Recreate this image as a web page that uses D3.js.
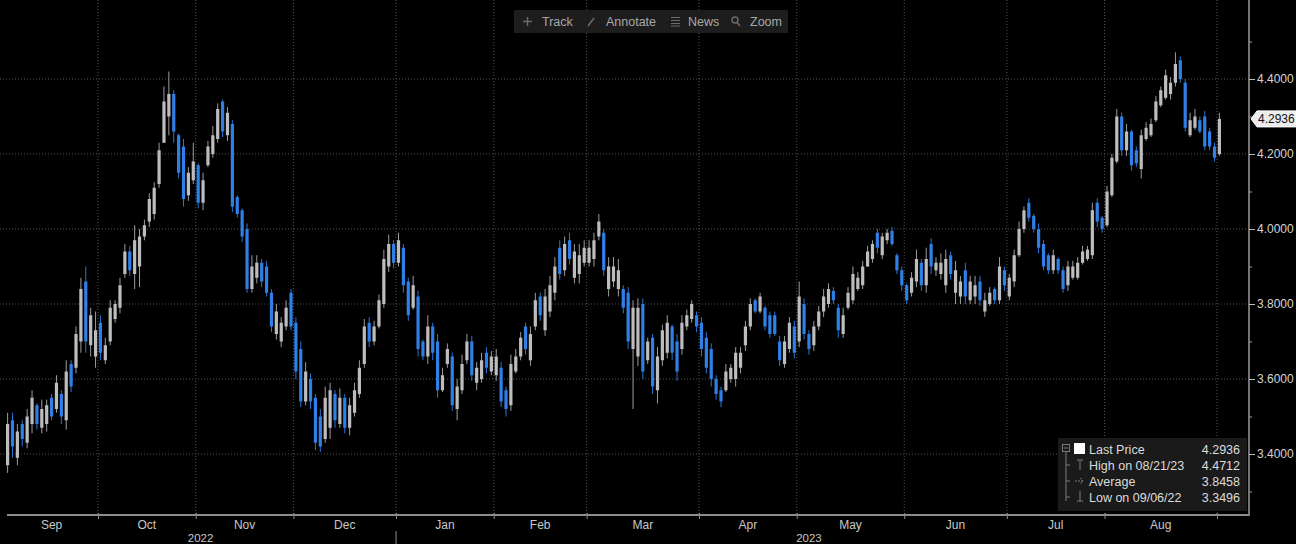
<!DOCTYPE html>
<html><head><meta charset="utf-8">
<script src="https://cdn.jsdelivr.net/npm/d3@7/dist/d3.min.js"></script>
<style>
html,body{margin:0;padding:0;background:#000;overflow:hidden;}
svg{display:block;font-family:"Liberation Sans",Arial,sans-serif;}
</style></head><body>
<svg id="chart" width="1296" height="544"></svg>
<script>
// ---------------- DATA ----------------
const firstDay = "2022-09-06";
const lastDay = "2023-09-01";
const holidays = ["2022-10-10","2022-11-11","2022-11-24","2022-12-26","2023-01-02",
  "2023-01-16","2023-02-20","2023-05-29","2023-06-19","2023-07-04"];

const opens = [
  3.37,3.49,3.39,3.48,3.43,3.48,3.53,3.47,3.48,3.55,3.52,3.56,3.49,3.64,3.63,3.70,3.86,3.69,3.66,
  3.75,3.65,3.70,3.76,3.79,3.88,3.94,3.88,3.90,3.98,4.02,4.04,4.12,4.23,4.30,4.36,4.25,4.22,4.09,4.13,
  4.17,4.07,4.17,4.20,4.24,4.34,4.25,4.28,4.085,4.05,4.00,3.84,3.87,3.91,3.90,3.83,3.72,3.70,3.74,3.83,
  3.75,3.68,3.54,3.60,3.55,3.50,3.44,3.47,3.56,3.48,3.55,3.47,3.51,3.56,3.64,3.75,3.70,3.74,3.80,3.90,3.96,
  3.91,3.95,3.86,3.79,3.82,3.70,3.66,3.74,3.70,3.57,3.64,3.66,3.52,3.57,3.65,3.70,3.59,3.60,3.67,3.62,
  3.61,3.63,3.57,3.53,3.62,3.66,3.74,3.65,3.74,3.82,3.73,3.78,3.83,3.95,3.89,3.97,3.87,3.88,3.91,
  3.91,3.92,3.98,3.99,3.84,3.86,3.84,3.84,3.83,3.68,3.66,3.80,3.65,3.71,3.57,3.65,3.67,3.74,3.70,3.68,3.74,3.76,3.77,
  3.75,3.71,3.68,3.60,3.57,3.57,3.60,3.60,3.63,3.69,3.74,3.81,3.78,3.79,3.77,3.77,3.70,3.64,3.68,3.74,
  3.70,3.80,3.72,3.69,3.74,3.78,3.80,3.835,3.79,3.72,3.79,3.81,3.84,3.85,3.90,3.92,3.99,3.93,3.97,3.995,3.93,3.89,
  3.85,3.83,3.86,3.91,3.85,3.96,3.89,3.88,3.85,3.93,3.83,3.82,3.89,3.81,3.82,3.86,3.78,3.80,3.84,3.81,3.89,
  3.82,3.86,3.93,4.00,4.07,4.035,4.00,3.96,3.93,3.89,3.92,3.89,3.85,3.87,3.87,3.91,3.92,3.93,4.07,4.03,
  4.01,4.09,4.18,4.30,4.21,4.26,4.21,4.16,4.24,4.25,4.29,4.33,4.35,4.36,4.39,4.45,4.39,4.25,4.27,4.29,4.30,4.26,4.22,
  4.20
];
const highs = [
  3.51,3.51,3.48,3.49,3.52,3.57,3.535,3.545,3.545,3.56,3.61,3.57,3.65,3.65,3.74,3.87,3.90,3.79,3.78,
  3.77,3.71,3.81,3.81,3.87,3.96,3.955,4.01,4.00,4.025,4.095,4.125,4.23,4.38,4.42,4.37,4.255,4.24,4.165,4.23,
  4.175,4.15,4.235,4.275,4.335,4.345,4.325,4.29,4.09,4.055,4.015,3.93,3.93,3.92,3.915,3.84,3.80,3.765,3.81,3.84,
  3.765,3.70,3.645,3.615,3.56,3.52,3.58,3.59,3.57,3.575,3.56,3.55,3.59,3.65,3.76,3.765,3.755,3.825,3.945,3.985,3.97,
  3.99,3.96,3.87,3.875,3.835,3.705,3.77,3.75,3.72,3.63,3.695,3.67,3.60,3.665,3.72,3.715,3.645,3.67,3.685,3.675,
  3.68,3.645,3.58,3.665,3.68,3.725,3.75,3.74,3.83,3.83,3.84,3.875,3.925,3.97,3.98,3.99,3.96,3.96,3.97,
  3.97,3.99,4.04,4.00,3.925,3.925,3.92,3.85,3.845,3.81,3.815,3.815,3.71,3.72,3.685,3.745,3.77,3.745,3.72,3.77,3.785,3.81,3.78,
  3.765,3.725,3.695,3.61,3.58,3.64,3.64,3.685,3.685,3.755,3.815,3.815,3.83,3.795,3.78,3.78,3.715,3.715,3.765,3.755,
  3.86,3.815,3.73,3.755,3.795,3.84,3.855,3.845,3.80,3.79,3.845,3.90,3.885,3.915,3.955,3.97,4.00,3.99,4.00,4.005,3.935,3.90,
  3.855,3.885,3.945,3.92,3.95,3.975,3.925,3.935,3.945,3.94,3.915,3.875,3.91,3.875,3.875,3.875,3.83,3.845,3.845,3.925,3.90,
  3.88,3.945,4.02,4.06,4.082,4.04,4.015,3.97,3.935,3.945,3.925,3.90,3.915,3.915,3.925,3.955,3.955,4.07,4.082,4.035,
  4.115,4.20,4.32,4.31,4.28,4.265,4.22,4.265,4.285,4.295,4.355,4.38,4.425,4.405,4.4712,4.46,4.40,4.31,4.32,4.30,4.315,4.27,4.23,
  4.31
];
const lows = [
  3.3496,3.39,3.37,3.42,3.415,3.455,3.465,3.455,3.46,3.49,3.51,3.48,3.465,3.565,3.615,3.67,3.67,3.66,3.63,
  3.65,3.64,3.69,3.75,3.775,3.87,3.875,3.84,3.845,3.97,4.005,4.025,4.11,4.23,4.25,4.23,4.135,4.06,4.075,4.12,
  4.055,4.05,4.165,4.19,4.23,4.245,4.235,4.045,4.03,3.965,3.83,3.83,3.855,3.845,3.82,3.725,3.705,3.685,3.73,3.73,
  3.60,3.525,3.53,3.52,3.41,3.405,3.43,3.44,3.47,3.47,3.455,3.45,3.50,3.55,3.63,3.685,3.69,3.735,3.79,3.885,3.895,
  3.90,3.83,3.755,3.785,3.66,3.65,3.64,3.65,3.55,3.565,3.63,3.515,3.49,3.56,3.64,3.595,3.57,3.59,3.615,3.61,
  3.595,3.525,3.50,3.515,3.615,3.65,3.665,3.635,3.73,3.755,3.715,3.765,3.81,3.865,3.875,3.905,3.855,3.855,3.90,
  3.90,3.90,3.97,3.875,3.82,3.845,3.82,3.775,3.68,3.52,3.635,3.60,3.64,3.56,3.535,3.635,3.655,3.65,3.595,3.665,3.73,3.75,3.725,
  3.66,3.615,3.58,3.545,3.525,3.565,3.59,3.58,3.615,3.675,3.73,3.775,3.775,3.73,3.71,3.715,3.635,3.63,3.67,3.655,
  3.685,3.705,3.665,3.675,3.73,3.765,3.79,3.80,3.71,3.71,3.785,3.80,3.835,3.84,3.90,3.91,3.935,3.92,3.96,3.955,3.88,3.835,
  3.80,3.82,3.845,3.835,3.83,3.88,3.875,3.865,3.83,3.865,3.80,3.80,3.80,3.80,3.80,3.795,3.766,3.795,3.80,3.80,3.835,
  3.81,3.845,3.925,3.99,4.02,3.99,3.935,3.89,3.88,3.88,3.88,3.83,3.835,3.865,3.865,3.905,3.915,3.92,4.005,3.99,
  4.005,4.085,4.175,4.195,4.195,4.155,4.165,4.135,4.235,4.245,4.285,4.325,4.345,4.345,4.38,4.39,4.26,4.245,4.265,4.255,4.21,4.21,4.18,
  4.195
];
const closes = [
  3.48,3.42,3.46,3.44,3.50,3.55,3.48,3.52,3.53,3.50,3.59,3.50,3.62,3.58,3.72,3.84,3.70,3.77,3.73,
  3.67,3.69,3.79,3.80,3.85,3.94,3.89,3.97,3.98,4.01,4.08,4.11,4.21,4.34,4.36,4.26,4.15,4.08,4.15,4.18,
  4.07,4.13,4.22,4.25,4.32,4.26,4.31,4.06,4.04,3.98,3.84,3.90,3.91,3.86,3.83,3.74,3.78,3.75,3.79,3.74,
  3.62,3.54,3.62,3.54,3.43,3.42,3.55,3.57,3.49,3.55,3.47,3.53,3.57,3.63,3.74,3.70,3.74,3.81,3.92,3.96,3.91,
  3.97,3.85,3.77,3.85,3.68,3.66,3.74,3.67,3.57,3.61,3.68,3.53,3.58,3.64,3.70,3.61,3.63,3.65,3.63,3.66,
  3.66,3.54,3.52,3.64,3.66,3.71,3.68,3.72,3.81,3.77,3.82,3.85,3.90,3.88,3.96,3.92,3.94,3.93,3.95,
  3.95,3.97,4.02,3.89,3.90,3.90,3.89,3.79,3.70,3.79,3.79,3.62,3.70,3.58,3.66,3.73,3.75,3.67,3.62,3.75,3.77,3.80,3.74,
  3.68,3.63,3.60,3.56,3.54,3.62,3.63,3.67,3.67,3.74,3.80,3.78,3.82,3.74,3.72,3.72,3.65,3.70,3.75,3.67,
  3.82,3.72,3.68,3.74,3.78,3.82,3.84,3.81,3.73,3.77,3.83,3.88,3.87,3.90,3.94,3.96,3.95,3.98,3.99,3.96,3.89,3.85,
  3.81,3.87,3.92,3.85,3.92,3.90,3.91,3.91,3.92,3.88,3.89,3.86,3.82,3.86,3.85,3.81,3.81,3.83,3.81,3.90,3.85,
  3.87,3.93,4.00,4.05,4.03,4.00,3.95,3.90,3.89,3.93,3.89,3.84,3.90,3.90,3.91,3.94,3.945,4.05,4.02,4.00,
  4.10,4.19,4.30,4.21,4.26,4.17,4.175,4.25,4.27,4.28,4.34,4.37,4.41,4.39,4.44,4.40,4.27,4.29,4.30,4.26,4.22,4.22,4.19,
  4.2936
];

const yTicks = [3.4, 3.6, 3.8, 4.0, 4.2, 4.4];
const yMinorTicks = [3.3, 3.5, 3.7, 3.9, 4.1, 4.3, 4.5];
const lastPrice = 4.2936;
const legendRows = [
  {label: "Last Price", value: "4.2936"},
  {label: "High on 08/21/23", value: "4.4712"},
  {label: "Average", value: "3.8458"},
  {label: "Low on 09/06/22", value: "3.3496"}
];
const toolbarItems = ["Track", "Annotate", "News", "Zoom"];

// ---------------- CHART ----------------
const svg = d3.select("#chart");
const plotRight = 1249, axisY = 515;
const parse = d3.timeParse("%Y-%m-%d"), fmt = d3.timeFormat("%Y-%m-%d");
const days = d3.timeDay.range(parse(firstDay), d3.timeDay.offset(parse(lastDay), 1))
  .filter(d => d.getDay() !== 0 && d.getDay() !== 6 && !holidays.includes(fmt(d)));
const n = days.length;
const data = days.map((d, i) => ({date: d, i, o: opens[i], h: highs[i], l: lows[i], c: closes[i]}));

const x = d3.scaleLinear().domain([0, n - 1]).range([7.6, 1219.4]);
const y = d3.scaleLinear().domain([3.4, 4.4]).range([454, 79]);

svg.append("rect").attr("width", 1296).attr("height", 544).attr("fill", "#000");

// month boundaries
const boundaries = [];
const monthGroups = [];
data.forEach((d, i) => {
  const m = d.date.getMonth();
  if (i === 0 || m !== data[i - 1].date.getMonth()) {
    if (i > 0) boundaries.push(i - 0.5);
    monthGroups.push({date: d.date, start: i, end: i});
  } else monthGroups[monthGroups.length - 1].end = i;
});

// grid
const grid = svg.append("g");
grid.selectAll("line.h").data(yTicks).join("line")
  .attr("x1", 0).attr("x2", plotRight)
  .attr("y1", d => y(d)).attr("y2", d => y(d))
  .attr("stroke", "#505050").attr("stroke-dasharray", "1,2");
grid.selectAll("line.v").data(boundaries).join("line")
  .attr("x1", d => x(d)).attr("x2", d => x(d))
  .attr("y1", 0).attr("y2", axisY)
  .attr("stroke", "#505050").attr("stroke-dasharray", "1,2");

// toolbar
const tb = svg.append("g");
tb.append("rect").attr("x", 514).attr("y", 10).attr("width", 274).attr("height", 23).attr("fill", "#1d1d1d");
const tbX = [542, 606, 688, 750];
tb.selectAll("text").data(toolbarItems).join("text")
  .attr("x", (d, i) => tbX[i]).attr("y", 26)
  .attr("fill", "#a8a8a8").attr("font-size", 12.5).text(d => d);
const ic = tb.append("g").attr("stroke", "#6a6a6a").attr("stroke-width", 1.5).attr("fill", "none");
ic.append("path").attr("d", "M523,21.5h9M527.5,17v9");
ic.append("path").attr("d", "M588,26l6,-8");
ic.append("path").attr("d", "M671,17.5h9M671,20.5h9M671,23.5h9M671,26h9").attr("stroke-width", 1.2);
ic.append("circle").attr("cx", 735).attr("cy", 20).attr("r", 3);
ic.append("path").attr("d", "M737,22.5l3,3.5");

// candles
const upCol = "#bdbdbd", dnCol = "#2f7fe6";
const candles = svg.append("g");
candles.selectAll("line").data(data).join("line")
  .attr("x1", d => x(d.i)).attr("x2", d => x(d.i))
  .attr("y1", d => y(d.h)).attr("y2", d => y(d.l))
  .attr("stroke", d => d.c >= d.o ? "#9c9c9c" : "#2c74d4").attr("stroke-width", 1);
candles.selectAll("rect").data(data).join("rect")
  .attr("x", d => x(d.i) - 1.6).attr("width", 3.2)
  .attr("y", d => y(Math.max(d.o, d.c)))
  .attr("height", d => Math.max(1, Math.abs(y(d.o) - y(d.c))))
  .attr("fill", d => d.c >= d.o ? upCol : dnCol);

// right axis
svg.append("line").attr("x1", plotRight).attr("x2", plotRight).attr("y1", 0).attr("y2", axisY + 1)
  .attr("stroke", "#9a9a9a").attr("stroke-width", 1.5);
const yAxis = svg.append("g").attr("transform", `translate(${plotRight},0)`)
  .call(d3.axisRight(y).tickValues(yTicks).tickFormat(d3.format(".4f")).tickSize(6).tickPadding(2));
yAxis.select(".domain").remove();
yAxis.selectAll("line").attr("stroke", "#bdbdbd");
yAxis.selectAll("text").attr("fill", "#d4d4d4").attr("font-size", 12)
  .attr("font-family", "Liberation Sans, Arial, sans-serif");
const yMinor = svg.append("g").attr("transform", `translate(${plotRight},0)`)
  .call(d3.axisRight(y).tickValues(yMinorTicks).tickFormat("").tickSize(3));
yMinor.select(".domain").remove();
yMinor.selectAll("line").attr("stroke", "#9a9a9a");

// last price tag
const ly = y(lastPrice);
svg.append("path")
  .attr("d", `M1251,${ly}L1257,${ly - 8}H1296V${ly + 8}H1257Z`)
  .attr("fill", "#ececec").attr("stroke", "#ffffff");
svg.append("text").attr("x", 1258).attr("y", ly + 4.5).attr("fill", "#111")
  .attr("font-size", 12).text(d3.format(".4f")(lastPrice));

// legend
const lg = svg.append("g");
lg.append("rect").attr("x", 1058).attr("y", 438).attr("width", 189).attr("height", 73).attr("fill", "#1a1a1a");
const rowY = [449, 465, 481, 497];
lg.selectAll("text.lab").data(legendRows).join("text")
  .attr("x", 1089).attr("y", (d, i) => rowY[i] + 4.5)
  .attr("fill", "#dcdcdc").attr("font-size", 12.5).text(d => d.label);
lg.selectAll("text.val").data(legendRows).join("text")
  .attr("x", 1240).attr("y", (d, i) => rowY[i] + 4.5).attr("text-anchor", "end")
  .attr("fill", "#dcdcdc").attr("font-size", 12.5).text(d => d.value);
lg.append("rect").attr("x", 1074).attr("y", 443).attr("width", 11).attr("height", 11).attr("fill", "#fff");
const li = lg.append("g").attr("stroke", "#7a7a7a").attr("fill", "none").attr("stroke-width", 1);
li.append("rect").attr("x", 1062.5).attr("y", 444.5).attr("width", 7).attr("height", 7);
li.append("path").attr("d", "M1064,448h4M1066,452v49M1066,465h4M1066,481h4M1066,497h4");
li.append("path").attr("d", "M1077,460h6M1080,460v10");
li.append("path").attr("d", "M1075,481h8M1080,478l3,3l-3,3").attr("stroke-dasharray", "2,1");
li.append("path").attr("d", "M1080,491v10M1077,501h6");

// bottom axis
svg.append("line").attr("x1", 7).attr("x2", plotRight).attr("y1", axisY).attr("y2", axisY)
  .attr("stroke", "#8c8c8c").attr("stroke-width", 2);
const xAxis = svg.append("g").attr("transform", `translate(0,${axisY - 2})`)
  .call(d3.axisBottom(x).tickValues(boundaries).tickFormat("").tickSize(6));
xAxis.select(".domain").remove();
xAxis.selectAll("line").attr("stroke", "#8c8c8c");

const monthFmt = d3.timeFormat("%b");
svg.append("g").selectAll("text").data(monthGroups.filter(g => g.end - g.start > 4)).join("text")
  .attr("x", g => x((g.start + g.end) / 2)).attr("y", 529)
  .attr("text-anchor", "middle").attr("fill", "#c8c8c8").attr("font-size", 12)
  .text(g => monthFmt(g.date));

// years
const years = d3.groups(data, d => d.date.getFullYear());
svg.append("g").selectAll("text").data(years).join("text")
  .attr("x", ([, arr]) => x((arr[0].i + arr[arr.length - 1].i) / 2)).attr("y", 542)
  .attr("text-anchor", "middle").attr("fill", "#c8c8c8").attr("font-size", 11.5)
  .text(([yr]) => yr);
const yearStarts = years.slice(1).map(([, arr]) => arr[0].i - 0.5);
svg.append("g").selectAll("line").data(yearStarts).join("line")
  .attr("x1", d => x(d)).attr("x2", d => x(d)).attr("y1", 531).attr("y2", 544)
  .attr("stroke", "#8c8c8c");
</script>
</body></html>
